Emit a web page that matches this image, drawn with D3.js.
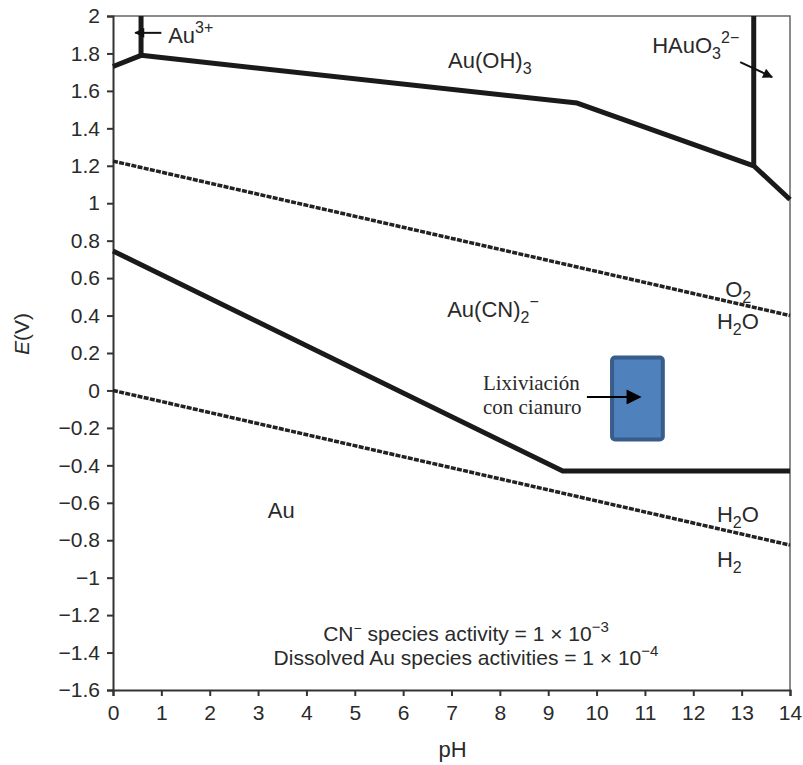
<!DOCTYPE html>
<html>
<head>
<meta charset="utf-8">
<script src="https://cdn.jsdelivr.net/npm/d3@7"></script>
<style>
  body { margin: 0; background: #fff; }
  text { font-family: "Liberation Sans", Arial, sans-serif; fill: #2a2a2a; }
</style>
</head>
<body>
<svg id="chart"></svg>
<script>
const width = 803
const height = 765
const margin = {top: 16, right: 13, bottom: 75, left: 113}

// axis ticks
const phTicks = [0, 1, 2, 3, 4, 5, 6, 7, 8, 9, 10, 11, 12, 13, 14]
const eTicks = [-1.6, -1.4, -1.2, -1, -0.8, -0.6, -0.4, -0.2, 0, 0.2, 0.4, 0.6, 0.8, 1, 1.2, 1.4, 1.6, 1.8, 2]

// Au(OH)3 lower boundary
const auOHpH = [0, 0.58, 9.6, 13.25, 14]
const auOHE = [1.73, 1.79, 1.535, 1.2, 1.02]
// Au3+ / Au(OH)3 boundary
const au3pH = [0.58, 0.58]
const au3E = [2, 1.79]
// Au(OH)3 / HAuO3 2- boundary
const hauPH = [13.25, 13.25]
const hauE = [2, 1.2]
// Au / Au(CN)2- boundary
const cnPH = [0, 9.3, 14]
const cnE = [0.745, -0.43, -0.43]
// water stability lines
const o2PH = [0, 14]
const o2E = [1.225, 0.40]
const h2PH = [0, 14]
const h2E = [0, -0.826]

const w = width - margin.left - margin.right
const h = height - margin.top - margin.bottom

const x = d3.scaleLinear().domain([0, 14]).range([0, w])
const y = d3.scaleLinear().domain([-1.6, 2]).range([h, 0])

const svgRoot = d3.select("#chart")
    .attr("width", width)
    .attr("height", height)

const defs = svgRoot.append("defs")
defs.append("marker")
    .attr("id", "head")
    .attr("viewBox", "0 0 10 10")
    .attr("refX", 9)
    .attr("refY", 5)
    .attr("markerWidth", 12)
    .attr("markerHeight", 10)
    .attr("markerUnits", "userSpaceOnUse")
    .attr("orient", "auto")
    .append("path")
        .attr("d", "M0,0 L10,5 L0,10 Z")
        .attr("fill", "#111")
defs.append("marker")
    .attr("id", "bighead")
    .attr("viewBox", "0 0 10 10")
    .attr("refX", 9)
    .attr("refY", 5)
    .attr("markerWidth", 16)
    .attr("markerHeight", 15)
    .attr("markerUnits", "userSpaceOnUse")
    .attr("orient", "auto")
    .append("path")
        .attr("d", "M0,0 L10,5 L0,10 Z")
        .attr("fill", "#000")

const svg = svgRoot.append("g")
    .attr("transform", `translate(${margin.left}, ${margin.top})`)

// frame (top and right)
svg.append("path")
    .attr("d", `M0,0 H${w} V${h}`)
    .attr("fill", "none")
    .attr("stroke", "#666")
    .attr("stroke-width", 1.5)

const yAxis = d3.axisLeft(y).tickValues(eTicks).tickSize(6).tickPadding(7).tickFormat(d3.format(""))
const xAxis = d3.axisBottom(x).tickValues(phTicks).tickSize(6).tickPadding(9)

const gy = svg.append("g").call(yAxis)
const gx = svg.append("g").attr("transform", `translate(0, ${h})`).call(xAxis)
;[gx, gy].forEach(g => {
    g.select(".domain").attr("stroke", "#333").attr("stroke-width", 2)
    g.selectAll(".tick line").attr("stroke", "#333").attr("stroke-width", 2)
    g.selectAll(".tick text")
        .style("font-family", "'Liberation Sans', Arial, sans-serif")
        .style("font-size", "21px")
        .attr("fill", "#2a2a2a")
})

const line = d3.line().x(d => x(d[0])).y(d => y(d[1]))
const solid = [[auOHpH, auOHE], [au3pH, au3E], [hauPH, hauE], [cnPH, cnE]]
const dotted = [[o2PH, o2E], [h2PH, h2E]]

svg.selectAll(".water")
    .data(dotted)
    .enter()
    .append("path")
        .attr("class", "water")
        .attr("d", d => line(d[0].map((p, i) => [p, d[1][i]])))
        .attr("fill", "none")
        .attr("stroke", "#222")
        .attr("stroke-width", 3.5)
        .attr("stroke-dasharray", "5,1.3")

svg.selectAll(".bound")
    .data(solid)
    .enter()
    .append("path")
        .attr("class", "bound")
        .attr("d", d => line(d[0].map((p, i) => [p, d[1][i]])))
        .attr("fill", "none")
        .attr("stroke", "#1a1a1a")
        .attr("stroke-width", 5)
        .attr("stroke-linejoin", "round")

// labels: [pH, E, parts] where parts = [text, kind]
const labels = [
    [6.93, 1.722, [["Au(OH)", ""], ["3", "sub"]]],
    [1.14, 1.856, [["Au", ""], ["3+", "sup"]]],
    [11.15, 1.80, [["HAuO", ""], ["3", "sub"], ["2−", "sup"]]],
    [6.91, 0.392, [["Au(CN)", ""], ["2", "sub"], ["−", "sup"]]],
    [12.66, 0.499, [["O", ""], ["2", "sub"]]],
    [12.49, 0.328, [["H", ""], ["2", "sub"], ["O", "back"]]],
    [3.2, -0.682, [["Au", ""]]],
    [12.49, -0.703, [["H", ""], ["2", "sub"], ["O", "back"]]],
    [12.49, -0.943, [["H", ""], ["2", "sub"]]]
]

labels.forEach(([px, pe, parts]) => {
    const t = svg.append("text")
        .attr("x", x(px))
        .attr("y", y(pe))
        .style("font-size", "22px")
    let shift = 0
    parts.forEach(([s, kind]) => {
        const span = t.append("tspan").text(s)
        if (kind === "sub") {
            span.attr("dy", 6 - shift).style("font-size", "16px")
            shift = 6
        } else if (kind === "sup") {
            span.attr("dy", -10 - shift).style("font-size", "16px")
            shift = -10
        } else if (kind === "back") {
            span.attr("dy", -shift)
            shift = 0
        }
    })
})

// conditions note
const note = svg.append("text")
    .attr("x", x(7.3))
    .attr("y", y(-1.339))
    .attr("text-anchor", "middle")
    .style("font-size", "21px")
note.append("tspan").text("CN")
note.append("tspan").text("−").attr("dy", -8).style("font-size", "14px")
note.append("tspan").text(" species activity = 1 × 10").attr("dy", 8)
note.append("tspan").text("−3").attr("dy", -9).style("font-size", "15px")

const note2 = svg.append("text")
    .attr("x", x(7.3))
    .attr("y", y(-1.467))
    .attr("text-anchor", "middle")
    .style("font-size", "21px")
note2.append("tspan").text("Dissolved Au species activities = 1 × 10")
note2.append("tspan").text("−4").attr("dy", -9).style("font-size", "15px")

// small arrows to Au3+ and HAuO3 2-
svg.append("line")
    .attr("x1", x(1.0)).attr("y1", y(1.91))
    .attr("x2", x(0.46)).attr("y2", y(1.91))
    .attr("stroke", "#111").attr("stroke-width", 2)
    .attr("marker-end", "url(#head)")
svg.append("line")
    .attr("x1", x(12.97)).attr("y1", y(1.754))
    .attr("x2", x(13.63)).attr("y2", y(1.674))
    .attr("stroke", "#111").attr("stroke-width", 2)
    .attr("marker-end", "url(#head)")

// leaching box
svg.append("rect")
    .attr("x", x(10.32))
    .attr("y", y(0.176))
    .attr("width", x(11.37) - x(10.32))
    .attr("height", y(-0.262) - y(0.176))
    .attr("rx", 3)
    .attr("fill", "#4F81BD")
    .attr("stroke", "#385D8A")
    .attr("stroke-width", 4)

svg.append("line")
    .attr("x1", x(9.8)).attr("y1", y(-0.035))
    .attr("x2", x(10.9)).attr("y2", y(-0.035))
    .attr("stroke", "#000").attr("stroke-width", 2)
    .attr("marker-end", "url(#bighead)")

const lix = svg.append("text")
    .attr("x", x(7.65))
    .attr("y", y(0.002))
    .style("font-family", "'Liberation Serif', 'Times New Roman', serif")
    .style("font-size", "21px")
    .attr("fill", "#000")
lix.append("tspan").text("Lixiviación")
lix.append("tspan").attr("x", x(7.65)).attr("dy", 24).text("con cianuro")

// axis titles
svg.append("text")
    .attr("x", x(7) + 1)
    .attr("y", h + 67)
    .attr("text-anchor", "middle")
    .style("font-size", "22px")
    .text("pH")

const et = svg.append("text")
    .attr("transform", `translate(${22 - margin.left + 7}, ${y(0.2) - 19}) rotate(-90)`)
    .attr("text-anchor", "middle")
    .style("font-size", "21px")
et.append("tspan").text("E").style("font-style", "italic")
et.append("tspan").text("(V)")
</script>
</body>
</html>
